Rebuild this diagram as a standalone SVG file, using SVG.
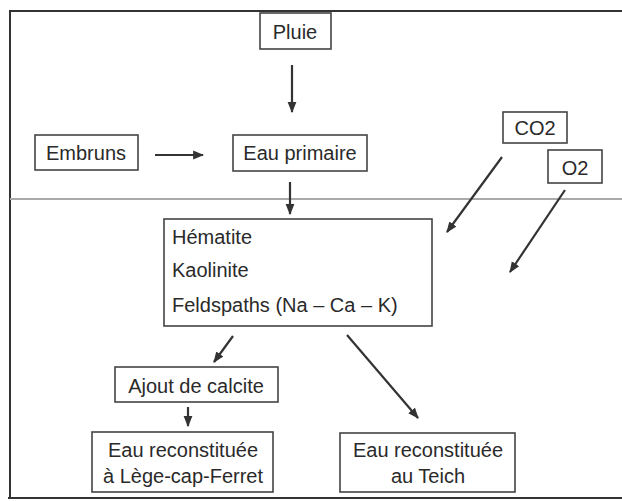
<svg xmlns="http://www.w3.org/2000/svg" width="622" height="501" viewBox="0 0 622 501">
<defs>
<style>
.box{fill:#fff;stroke:#444;stroke-width:1.6}
.t{font-family:"Liberation Sans",Arial,sans-serif;font-size:20px;fill:#2a2a2a}
.c{text-anchor:middle}
.edge{stroke:#333;stroke-width:2.2;fill:none;marker-end:url(#ah)}
.frame{stroke:#333;stroke-width:2;fill:none}
</style>
<marker id="ah" viewBox="0 0 10 10" refX="9" refY="5" markerWidth="5" markerHeight="5" orient="auto" markerUnits="strokeWidth">
<path d="M0,1 L10,5 L0,9 z" fill="#333"/>
</marker>
</defs>
<rect width="622" height="501" fill="#fff"/>
<g id="frame">
<path class="frame" d="M10,498 L10,11 L622,11"/>
<path class="frame" d="M8,498 L622,498"/>
<line x1="10" y1="199" x2="622" y2="199" stroke="#aaa" stroke-width="2"/>
</g>
<g id="connectors">
<line class="edge" x1="292" y1="65" x2="292" y2="112"/>
<line class="edge" x1="155" y1="155" x2="203" y2="155"/>
<line class="edge" x1="290" y1="182" x2="290" y2="214"/>
<line class="edge" x1="502" y1="157" x2="447" y2="232"/>
<line class="edge" x1="565" y1="190" x2="510" y2="272"/>
<line class="edge" x1="233" y1="336" x2="214" y2="362"/>
<line class="edge" x1="188" y1="407" x2="188" y2="426"/>
<line class="edge" x1="347" y1="335" x2="418" y2="418"/>
</g>
<g id="pluie">
<rect class="box" x="260" y="13" width="71" height="36"/>
<text class="t c" x="295" y="39">Pluie</text>
</g>
<g id="embruns">
<rect class="box" x="35" y="135" width="103" height="35"/>
<text class="t c" x="86" y="160">Embruns</text>
</g>
<g id="eau-primaire">
<rect class="box" x="233" y="135" width="134" height="36"/>
<text class="t c" x="300" y="160">Eau primaire</text>
</g>
<g id="co2">
<rect class="box" x="503" y="112" width="64" height="31"/>
<text class="t c" x="535" y="135">CO2</text>
</g>
<g id="o2">
<rect class="box" x="548" y="150" width="54" height="33"/>
<text class="t c" x="575" y="175">O2</text>
</g>
<g id="mineraux">
<rect class="box" x="164" y="219" width="268" height="107"/>
<text class="t" x="172" y="244">Hématite</text>
<text class="t" x="172" y="277">Kaolinite</text>
<text class="t" x="172" y="312">Feldspaths (Na – Ca – K)</text>
</g>
<g id="ajout">
<rect class="box" x="115" y="367" width="163" height="35"/>
<text class="t c" x="196" y="393">Ajout de calcite</text>
</g>
<g id="eau-lcf">
<rect class="box" x="92" y="432" width="181" height="60"/>
<text class="t c" x="183" y="457">Eau reconstituée</text>
<text class="t c" x="183" y="483">à Lège-cap-Ferret</text>
</g>
<g id="eau-teich">
<rect class="box" x="340" y="433" width="175" height="59"/>
<text class="t c" x="428" y="457">Eau reconstituée</text>
<text class="t c" x="428" y="483">au Teich</text>
</g>
</svg>
